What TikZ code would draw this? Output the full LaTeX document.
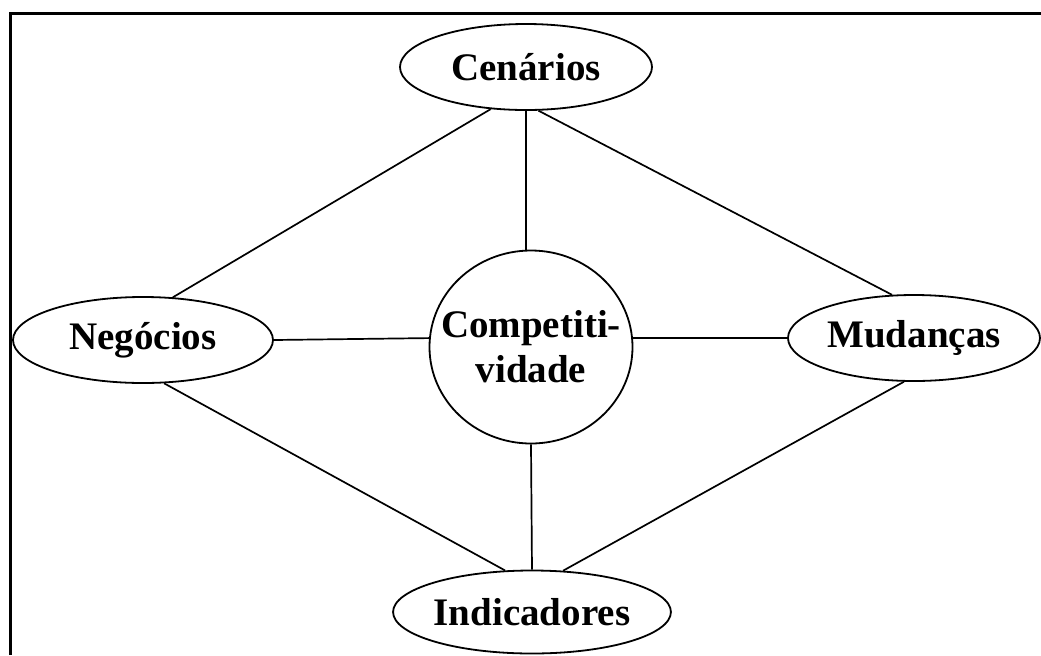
\documentclass[tikz,border=0pt]{standalone}
\usepackage{fontspec}
\setmainfont{Liberation Serif}
\usetikzlibrary{shapes.geometric}

\begin{document}
\begin{tikzpicture}[x=0.5pt, y=-0.5pt,
    topic/.style={draw, ellipse, line width=0.9pt, inner sep=0pt,
      minimum height=43pt,
      font=\bfseries\fontsize{19.5pt}{22.5pt}\selectfont},
    link/.style={line width=0.85pt}]
  \useasboundingbox (0,0) rectangle (1041,655);
  \draw [line width=1.5pt] (10.5,655) -- (10.5,13.5) -- (1041,13.5);

  \node (cen) [topic, minimum width=126pt] at (526,67) {Cenários};
  \node (neg) [topic, minimum width=130pt] at (143,340) {Negócios};
  \node (mud) [topic, minimum width=126pt] at (914,338) {Mudanças};
  \node (ind) [topic, minimum width=130.5pt, minimum height=41.5pt] at (532,612) {Indicadores};
  \node (comp) [topic, align=center, inner sep=-25pt,
    minimum width=101.5pt, minimum height=96.5pt] at (531,347) {Competiti-\\vidade};

  \draw [link] (cen.south) -- (cen.south |- comp.north);
  \draw [link] (comp.south) -- (ind.north);
  \draw [link] (neg.east) -- (comp.175);
  \draw [link] (comp.5) -- (mud.west);
  \draw [link] (cen.230) -- (neg.55);
  \draw [link] (cen.286) -- (mud.117);
  \draw [link] (neg.296) -- (ind.123);
  \draw [link] (mud.257) -- (ind.53);
\end{tikzpicture}
\end{document}
